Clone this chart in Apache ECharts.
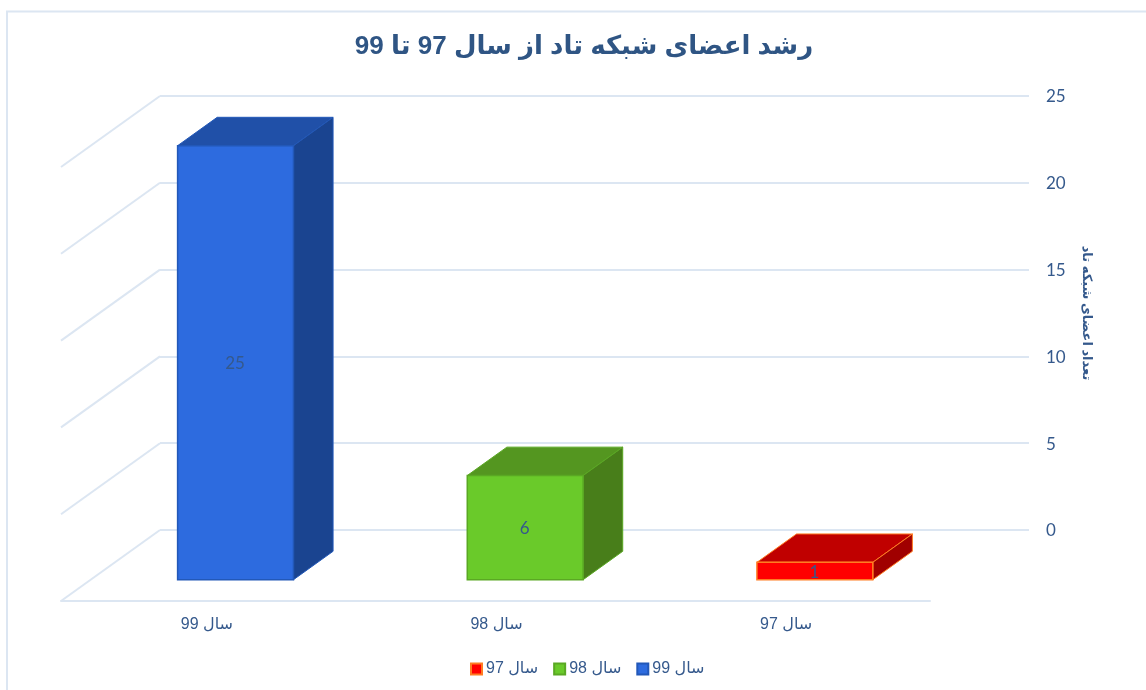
<!DOCTYPE html>
<html>
<head>
<meta charset="utf-8">
<title>chart</title>
<style>
html, body { margin: 0; padding: 0; background: #fff; }
#chart { width: 1146px; height: 690px; }
</style>
<script src="https://cdn.jsdelivr.net/npm/echarts@6/dist/echarts.min.js"></script>
</head>
<body>
<div id="chart"></div>
<script>
var titleText = 'رشد اعضای شبکه تاد از سال 97 تا 99';
var axisTitle = 'تعداد اعضای شبکه تاد';
var categories = ['سال 99', 'سال 98', 'سال 97'];
var memberCounts = [25, 6, 1];
var legendOrder = ['سال 97', 'سال 98', 'سال 99'];
var yTicks = [0, 5, 10, 15, 20, 25];

// bar colours, same order as categories
var barStyles = [
    { front: '#2d6bdf', top: '#2050a8', side: '#1a4490', border: '#2258b8' },
    { front: '#6aca2a', top: '#549620', side: '#487e1a', border: '#5aa823' },
    { front: '#ff0000', top: '#c00000', side: '#a00000', border: '#ff7c22' }
];

var textColor = '#35598c';
var lineColor = '#dce6f2';
var arabicFont = '"Liberation Sans", "DejaVu Sans", sans-serif';

// depth of the fake 3d floor, the bars stand between 30% and 70% of it
var floorDx = 99;
var floorDy = 71;
var barFrom = 0.3;
var barTo = 0.7;
var barBand = 0.4;

function poly(points, fill, stroke, width) {
    return {
        type: 'polygon',
        shape: { points: points },
        style: { fill: fill, stroke: stroke, lineWidth: width, lineJoin: 'miter' }
    };
}

function renderBar(params, api) {
    var st = barStyles[api.value(0)];
    var topPt = api.coord([api.value(0), api.value(1)]);
    var basePt = api.coord([api.value(0), 0]);
    var halfW = api.size([1, 0])[0] * barBand / 2;
    var fx = topPt[0] + floorDx * barFrom;
    var shiftY = -floorDy * barFrom;
    var l = fx - halfW, r = fx + halfW;
    var t = topPt[1] + shiftY, b = basePt[1] + shiftY;
    var dx = floorDx * (barTo - barFrom);
    var dy = -floorDy * (barTo - barFrom);
    return {
        type: 'group',
        children: [
            poly([[l, t], [r, t], [r + dx, t + dy], [l + dx, t + dy]], st.top, st.border, 1),
            poly([[r, t], [r + dx, t + dy], [r + dx, b + dy], [r, b]], st.side, st.border, 1),
            poly([[l, t], [r, t], [r, b], [l, b]], st.front, st.border, 1.5),
            {
                type: 'text',
                x: fx - 0.5,
                y: (t + b) / 2 + 1,
                style: {
                    text: String(api.value(1)),
                    fill: textColor,
                    font: '17px Lato, sans-serif',
                    textAlign: 'center',
                    textVerticalAlign: 'middle'
                }
            }
        ]
    };
}

// slanted lines on the left wall, one for each tick
function renderWall(params, api) {
    var y = api.coord([0, api.value(0)])[1];
    var x = params.coordSys.x;
    return {
        type: 'line',
        shape: { x1: x, y1: y, x2: x - floorDx, y2: y + floorDy },
        style: { stroke: lineColor, lineWidth: 2 }
    };
}

var series = [{
    type: 'custom',
    silent: true,
    xAxisIndex: 0,
    yAxisIndex: 0,
    renderItem: renderWall,
    encode: { y: 0 },
    data: yTicks.map(function (v) { return [v]; }),
    z: 1
}];

categories.forEach(function (name, i) {
    series.push({
        name: name,
        type: 'custom',
        xAxisIndex: 1,
        yAxisIndex: 1,
        renderItem: renderBar,
        encode: { x: 0, y: 1 },
        itemStyle: { color: barStyles[i].front, borderColor: barStyles[i].border, borderWidth: 1 },
        data: [[i, memberCounts[i]]],
        z: 3
    });
});

var myChart = echarts.init(document.getElementById('chart'));
var option = {
    animation: false,
    backgroundColor: '#ffffff',
    title: {
        text: titleText,
        left: 579,
        top: 29,
        textAlign: 'center',
        textStyle: { color: '#2f5584', fontSize: 26, fontWeight: 'bold', fontFamily: arabicFont }
    },
    legend: {
        data: legendOrder,
        icon: 'rect',
        left: 465,
        top: 656,
        itemWidth: 11,
        itemHeight: 11,
        itemGap: 15,
        textStyle: { color: textColor, fontSize: 16, fontFamily: arabicFont, padding: [0, 0, 0, -1] }
    },
    grid: [
        { left: 160, right: 117, top: 96, height: 434 },
        { left: 61, right: 216, top: 167, height: 434 }
    ],
    xAxis: [
        { type: 'category', gridIndex: 0, data: categories, show: false },
        {
            type: 'category',
            gridIndex: 1,
            data: categories,
            axisTick: { show: false },
            axisLine: { lineStyle: { color: lineColor, width: 2 } },
            axisLabel: { color: textColor, fontSize: 16, fontFamily: arabicFont, margin: 16, padding: [0, 0, 0, 2] }
        }
    ],
    yAxis: [
        {
            type: 'value',
            gridIndex: 0,
            position: 'right',
            min: 0,
            max: 25,
            interval: 5,
            axisLine: { show: false },
            axisTick: { show: false },
            splitLine: { lineStyle: { color: lineColor, width: 2 } },
            axisLabel: { color: textColor, fontSize: 17, fontFamily: 'Lato, sans-serif', margin: 17, lineHeight: 24, verticalAlign: 'top', padding: [-11, 0, 0, 0] },
            name: axisTitle,
            nameLocation: 'middle',
            nameRotate: -90,
            nameGap: 51,
            nameTextStyle: { color: textColor, fontSize: 13, fontWeight: 'bold', fontFamily: arabicFont }
        },
        { type: 'value', gridIndex: 1, min: 0, max: 25, interval: 5, show: false }
    ],
    graphic: [{
        type: 'polyline',
        shape: { points: [[7, 700], [7, 11.5], [1160, 11.5]] },
        style: { stroke: lineColor, lineWidth: 2, fill: null },
        silent: true
    }],
    series: series
};
myChart.setOption(option);
</script>
</body>
</html>
